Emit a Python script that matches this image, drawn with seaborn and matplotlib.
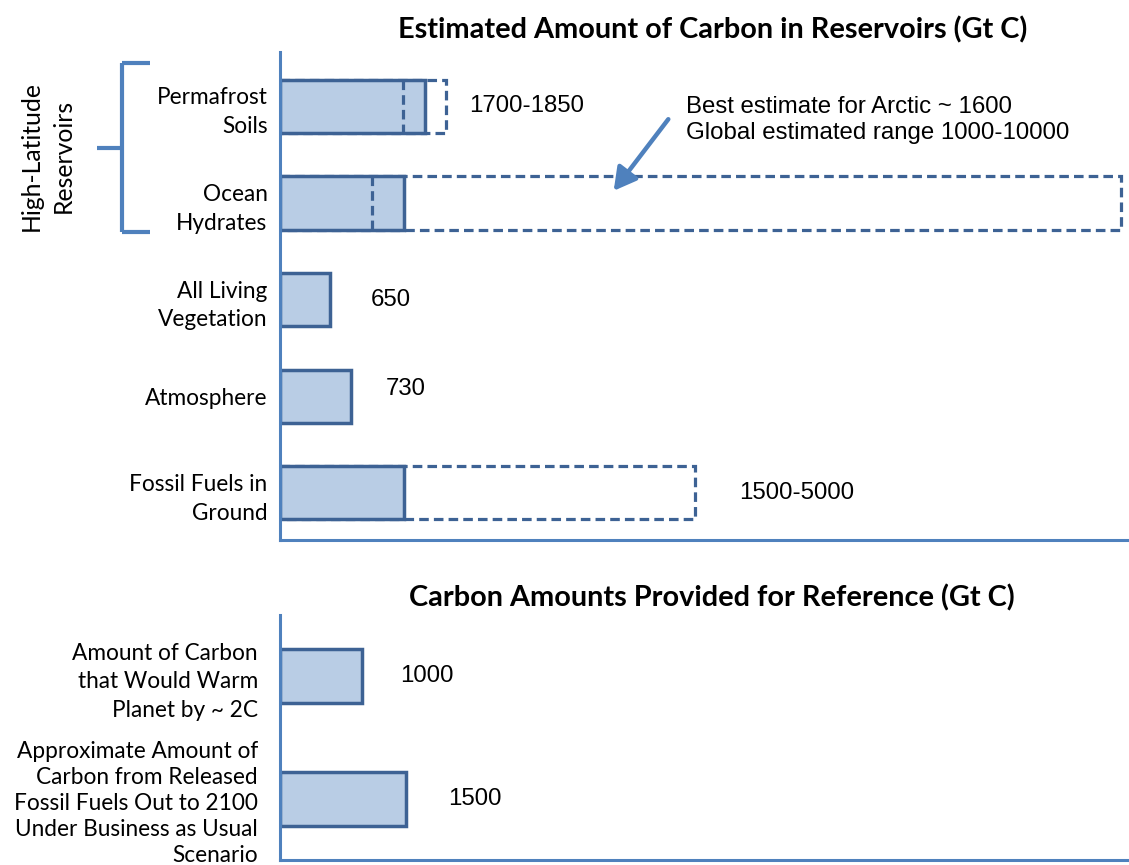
import matplotlib
matplotlib.use("Agg")
import matplotlib.pyplot as plt
import seaborn as sns
import pandas as pd
from matplotlib.lines import Line2D

# ---------------- data ----------------
top_categories = ["Permafrost\nSoils", "Ocean\nHydrates", "All Living\nVegetation",
                  "Atmosphere", "Fossil Fuels in\nGround"]
top_values = [1720, 1470, 600, 840, 1470]          # solid bars (Gt C)
top_upper = [1970, 10000, None, None, 4930]        # dashed range extents
top_inner = [1460, 1090, None, None, None]         # dashed inner markers
top_labels = ["1700-1850", None, "650", "730", "1500-5000"]

bottom_categories = ["Amount of Carbon\nthat Would Warm\nPlanet by ~ 2C",
                     "Approximate Amount of\nCarbon from Released\nFossil Fuels Out to 2100\nUnder Business as Usual\nScenario"]
bottom_values = [980, 1500]
bottom_labels = ["1000", "1500"]

title_top = "Estimated Amount of Carbon in Reservoirs (Gt C)"
title_bottom = "Carbon Amounts Provided for Reference (Gt C)"
note_text = "Best estimate for Arctic ~ 1600\nGlobal estimated range 1000-10000"
group_text = "High-Latitude\nReservoirs"

# ---------------- style ----------------
sns.set_style("white")
plt.rcParams["font.family"] = ["Lato", "DejaVu Sans"]
plt.rcParams["text.color"] = "black"
plt.rcParams["ytick.color"] = "black"

FILL = "#b9cde5"
EDGE = "#3d6294"
AXIS = "#4f81bd"
DASH = (0, (3, 1.6))
XMAX = 10095
VALFONT = ["Liberation Sans", "DejaVu Sans"]

fig = plt.figure(figsize=(11.29, 8.65), dpi=100)
W, H = 1129, 865
ax1 = fig.add_axes([280 / W, 1 - 540 / H, 1 - 280 / W, (540 - 52) / H])
ax2 = fig.add_axes([280 / W, 1 - 860 / H, 1 - 280 / W, (860 - 615) / H])

df_top = pd.DataFrame({"cat": top_categories, "val": top_values,
                       "upper": top_upper, "inner": top_inner})
df_up = df_top.dropna(subset=["upper"])

w_top = 0.55
sns.barplot(data=df_up, y="cat", x="upper", order=top_categories, orient="h",
            color="none", edgecolor=EDGE, linewidth=2.3, linestyle=DASH,
            width=w_top, ax=ax1, saturation=1)
sns.barplot(data=df_top, y="cat", x="val", order=top_categories, orient="h",
            color=FILL, edgecolor=EDGE, linewidth=2.5, width=w_top, ax=ax1,
            saturation=1)
for i, v in enumerate(top_inner):
    if v is not None:
        ax1.vlines(v, i - w_top / 2, i + w_top / 2, colors=EDGE, linewidth=2.3,
                   linestyles=[DASH], zorder=5)

label_offsets = [(17, 0), None, (29, 0), (25, 5), (32, 0)]
for i, lab in enumerate(top_labels):
    if lab is None:
        continue
    end = top_upper[i] if top_upper[i] is not None else top_values[i]
    dx, dy = label_offsets[i]
    ax1.annotate(lab, xy=(end, i), xytext=(dx, dy), textcoords="offset points",
                 va="center", ha="left", fontsize=17.3, family=VALFONT)

ax1.set_ylim(4.489, -0.563)

df_bot = pd.DataFrame({"cat": bottom_categories, "val": bottom_values})
w_bot = 0.44
sns.barplot(data=df_bot, y="cat", x="val", order=bottom_categories, orient="h",
            color=FILL, edgecolor=EDGE, linewidth=2.5, width=w_bot, ax=ax2,
            saturation=1)
for i, lab in enumerate(bottom_labels):
    ax2.annotate(lab, xy=(bottom_values[i], i), xytext=(27 + 3 * i, 0),
                 textcoords="offset points", va="center", ha="left",
                 fontsize=17.3, family=VALFONT)
ax2.set_ylim(1.496, -0.496)

for ax, pad in ((ax1, 9), (ax2, 16)):
    ax.set_xlim(0, XMAX)
    ax.set_xticks([])
    ax.set_xlabel("")
    ax.set_ylabel("")
    for s in ("top", "right"):
        ax.spines[s].set_visible(False)
    for s in ("left", "bottom"):
        ax.spines[s].set_color(AXIS)
        ax.spines[s].set_linewidth(2.2)
    ax.tick_params(axis="y", length=0, pad=pad, labelsize=16.3)
    for t in ax.get_yticklabels():
        t.set_multialignment("right")
        t.set_linespacing(1.46)
    ax.patch.set_alpha(0)

# keep the five-line label inside the figure
ax2.get_yticklabels()[1].set_linespacing(1.3)

# titles
fig.text(713 / W, 1 - 30 / H, title_top, ha="center", va="center",
         fontsize=20.8, fontweight="bold")
fig.text(712 / W, 1 - 598 / H, title_bottom, ha="center", va="center",
         fontsize=20.8, fontweight="bold")

# annotation
fig.text(686 / W, 1 - 120 / H, note_text, ha="left", va="center", fontsize=17.3,
         family=VALFONT, linespacing=1.22)
fig.add_artist(matplotlib.patches.FancyArrowPatch(
    (670 / W, 1 - 117 / H), (612 / W, 1 - 193 / H), transform=fig.transFigure,
    arrowstyle="-|>,head_length=9,head_width=5", color=AXIS, linewidth=3.2,
    mutation_scale=1.5))

# bracket
bx, by0, by1, bxr, bmid, bxl = 122, 63, 232, 150, 148, 97
for xs, ys in [([bx, bx], [by0, by1]), ([bx, bxr], [by0, by0]),
               ([bx, bxr], [by1, by1]), ([bxl, bx], [bmid, bmid])]:
    fig.add_artist(Line2D([x / W for x in xs], [1 - y / H for y in ys],
                          transform=fig.transFigure, color=AXIS, linewidth=3,
                          solid_capstyle="butt"))
fig.text(47 / W, 1 - 156 / H, group_text, rotation=90, ha="center", va="center",
         fontsize=17.8, multialignment="center", linespacing=1.45)

fig.savefig("out.png", dpi=100)
